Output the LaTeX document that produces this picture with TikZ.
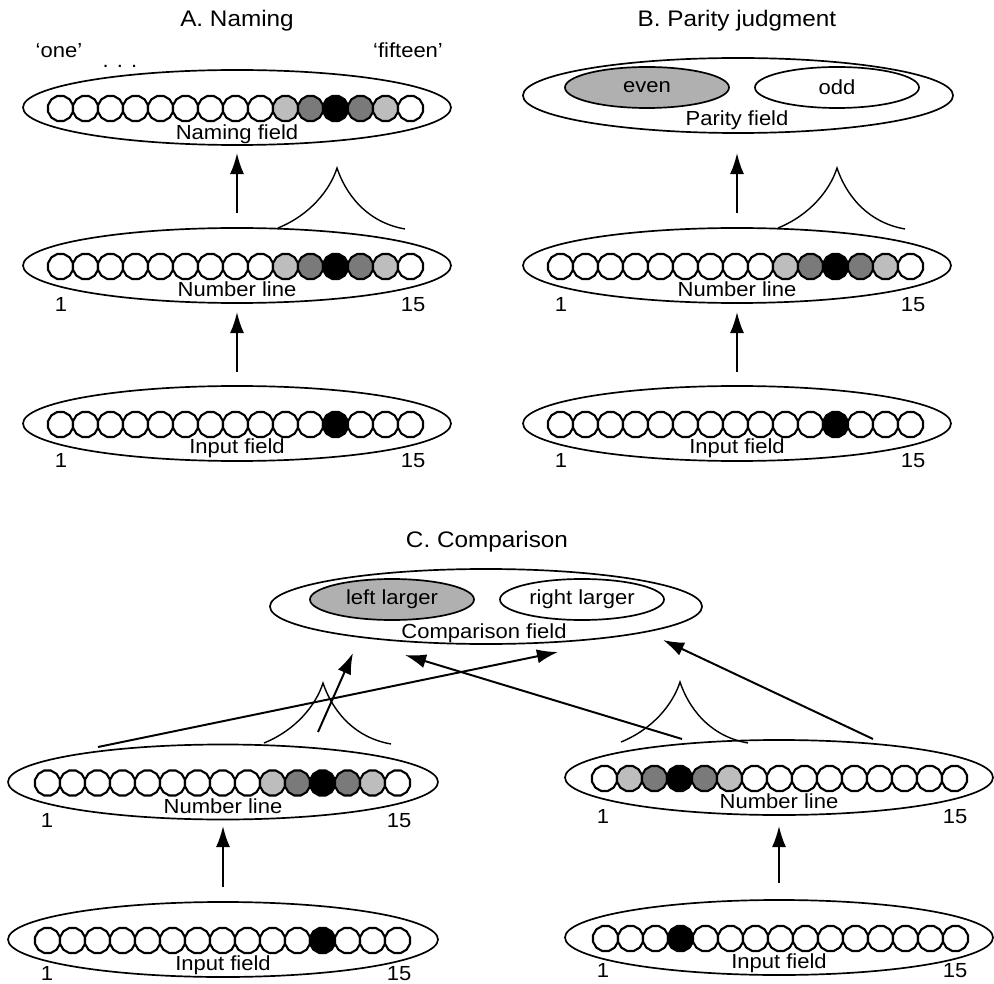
\documentclass[tikz,border=0pt]{standalone}
\usepackage{fontspec}
\setmainfont{Liberation Sans}[FakeStretch=1.08]
\usetikzlibrary{shapes.geometric,arrows.meta}
\definecolor{lg}{HTML}{BDBDBD}
\definecolor{mg}{HTML}{7A7A7A}
\definecolor{optgray}{HTML}{B0B0B0}

\newcommand{\mkfield}[8]{%
  \node[fieldell, minimum width={2*#4*0.025cm}] (#1) at (#2,#3) {};
  \foreach \col [count=\i from 0] in {#6} {
    \node[unit, fill=\col] (#1-u\i) at ({#5+25*\i},{#3+1}) {};
  }
  \node[lab] (#1-lab) at (#2,{#3+#8}) {#7};
}
\newcommand{\mkdigits}[3]{%
  \node[lab] (#1-one) at ({#2-176},#3) {1};
  \node[lab] (#1-fif) at ({#2+176},#3) {15};
}
\newcommand{\mkpeak}[3]{%
  \coordinate (#1) at (#2,#3);
  \draw[peakline] ([shift={(-59,60)}]#1) .. controls ([shift={(-27,47)}]#1) and ([shift={(-7,22)}]#1) .. (#1)
    .. controls ([shift={(8,24)}]#1) and ([shift={(28,54)}]#1) .. ([shift={(68,61)}]#1);
}

\begin{document}
\begin{tikzpicture}[x=0.025cm,y=-0.025cm,
  fieldell/.style={draw, ellipse, line width=1.2pt, inner sep=0pt, minimum height=1.875cm},
  unit/.style={draw, regular polygon, regular polygon sides=12, minimum size=0.645cm, inner sep=0pt, line width=1.5pt},
  lab/.style={anchor=base, inner sep=0pt, font=\fontsize{14.5}{17}\selectfont},
  ttl/.style={anchor=base, inner sep=0pt, font=\fontsize{16}{19}\selectfont},
  opt/.style={draw, ellipse, line width=1.2pt, inner sep=0pt, minimum width=4.1cm, minimum height=1.025cm, font=\fontsize{14.5}{17}\selectfont},
  arr/.style={line width=1.4pt, -{Latex[length=15pt,width=10pt]}},
  crossline/.style={line width=1.4pt, -{Latex[length=15pt,width=10pt]}},
  peakline/.style={line width=1pt}
]
\useasboundingbox (0,0) rectangle (994,984);

% ---------------- Panel A ----------------
\node[ttl] (tA) at (237,27) {A. Naming};
\node[lab] (qone) at (59,58) {‘one’};
\node[lab] (qdots) at (120,68) {. . .};
\node[lab] (qfif) at (408,58) {‘fifteen’};
\mkfield{An}{237}{107.5}{214}{60.5}{white,white,white,white,white,white,white,white,white,lg,mg,black,mg,lg,white}{Naming field}{32.5}
\mkfield{Al}{237}{265.5}{214}{60.5}{white,white,white,white,white,white,white,white,white,lg,mg,black,mg,lg,white}{Number line}{31.5}
\mkdigits{Al}{237}{312}
\mkfield{Ai}{237}{423.5}{214}{60.5}{white,white,white,white,white,white,white,white,white,white,white,black,white,white,white}{Input field}{29.5}
\mkdigits{Ai}{237}{467}
\mkpeak{pA}{337}{168}
\coordinate (aA1s) at (237,213); \coordinate (aA1e) at (237,153);
\coordinate (aA2s) at (237,372); \coordinate (aA2e) at (237,312);
\draw[arr] (aA1s) -- (aA1e);
\draw[arr] (aA2s) -- (aA2e);

% ---------------- Panel B ----------------
\node[ttl] (tB) at (737,27) {B. Parity judgment};
\node[fieldell, minimum width=10.75cm] (Bp) at (738,95.5) {};
\node[opt, fill=optgray] (even) at (647,87.5) {even};
\node[opt] (odd) at (837,87.5) {odd};
\node[lab] (Bp-lab) at (737,126) {Parity field};
\mkfield{Bl}{737}{265.5}{214}{560.5}{white,white,white,white,white,white,white,white,white,lg,mg,black,mg,lg,white}{Number line}{31.5}
\mkdigits{Bl}{737}{312}
\mkfield{Bi}{737}{423.5}{214}{560.5}{white,white,white,white,white,white,white,white,white,white,white,black,white,white,white}{Input field}{29.5}
\mkdigits{Bi}{737}{467}
\mkpeak{pB}{837}{168}
\coordinate (aB1s) at (737,213); \coordinate (aB1e) at (737,153);
\coordinate (aB2s) at (737,372); \coordinate (aB2e) at (737,312);
\draw[arr] (aB1s) -- (aB1e);
\draw[arr] (aB2s) -- (aB2e);

% ---------------- Panel C ----------------
\node[ttl] (tC) at (487,547) {C. Comparison};
\node[fieldell, minimum width=10.8cm] (Cc) at (486,606.5) {};
\node[opt, fill=optgray] (ll) at (392,599.5) {left larger};
\node[opt] (rl) at (582,599.5) {right larger};
\node[lab] (Cc-lab) at (484,638) {Comparison field};

\mkfield{Cl}{223}{782}{215}{47.5}{white,white,white,white,white,white,white,white,white,lg,mg,black,mg,lg,white}{Number line}{31}
\mkdigits{Cl}{223}{827}
\mkfield{Ci}{223}{939.5}{215}{47.5}{white,white,white,white,white,white,white,white,white,white,white,black,white,white,white}{Input field}{30.5}
\mkdigits{Ci}{223}{980}
\mkpeak{pCl}{323}{683}

\mkfield{Dl}{779}{777.5}{214}{604.5}{white,lg,mg,black,mg,lg,white,white,white,white,white,white,white,white,white}{Number line}{31}
\mkdigits{Dl}{779}{823}
\mkfield{Di}{779}{937.5}{214}{605.5}{white,white,white,black,white,white,white,white,white,white,white,white,white,white,white}{Input field}{30.5}
\mkdigits{Di}{779}{977}
\mkpeak{pCr}{680}{682}

\coordinate (aC1s) at (223,887); \coordinate (aC1e) at (223,826);
\coordinate (aC2s) at (779,883); \coordinate (aC2e) at (779,826);
\draw[arr] (aC1s) -- (aC1e);
\draw[arr] (aC2s) -- (aC2e);

\coordinate (x1s) at (98,747);  \coordinate (x1e) at (558,652);
\coordinate (x2s) at (318,732); \coordinate (x2e) at (353,653);
\coordinate (x3s) at (682,739); \coordinate (x3e) at (405,655);
\coordinate (x4s) at (873,739); \coordinate (x4e) at (663,640);
\draw[crossline] (x1s) -- (x1e);
\draw[crossline] (x2s) -- (x2e);
\draw[crossline] (x3s) -- (x3e);
\draw[crossline] (x4s) -- (x4e);
\end{tikzpicture}
\end{document}
